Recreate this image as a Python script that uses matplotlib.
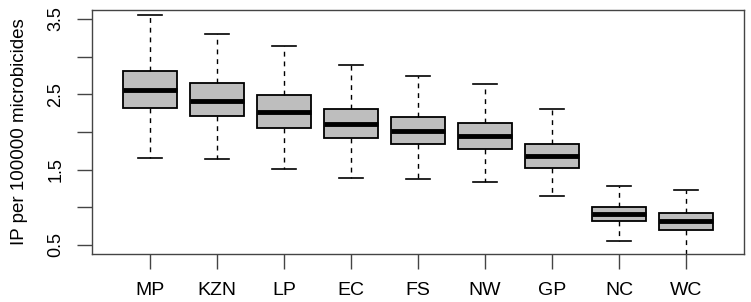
import matplotlib
matplotlib.use("Agg")
import matplotlib.pyplot as plt

provinces = ["MP", "KZN", "LP", "EC", "FS", "NW", "GP", "NC", "WC"]
whisker_low = [1.66, 1.645, 1.51, 1.39, 1.37, 1.34, 1.155, 0.556, 0.30]
q1 = [2.314, 2.208, 2.056, 1.920, 1.836, 1.778, 1.525, 0.813, 0.694]
medians = [2.557, 2.415, 2.269, 2.110, 2.013, 1.946, 1.677, 0.906, 0.813]
q3 = [2.813, 2.646, 2.491, 2.309, 2.203, 2.123, 1.836, 1.007, 0.920]
whisker_high = [3.55, 3.297, 3.146, 2.893, 2.743, 2.641, 2.301, 1.286, 1.233]
y_ticks = [0.5, 1.0, 1.5, 2.0, 2.5, 3.0, 3.5]
y_tick_labels = ["0.5", "", "1.5", "", "2.5", "", "3.5"]
ylabel = "IP per 100000 microbicides"

plt.rcParams['font.family'] = ['Liberation Sans', 'DejaVu Sans']

fig = plt.figure(figsize=(7.51, 3.02), dpi=100)
ax = fig.add_axes([92/751, 1 - 254/302, (744-92)/751, (254-9.5)/302])

stats = []
for i, name in enumerate(provinces):
    stats.append(dict(label=name, whislo=whisker_low[i], q1=q1[i], med=medians[i],
                      q3=q3[i], whishi=whisker_high[i], fliers=[]))

positions = list(range(1, len(provinces) + 1))
ax.bxp(stats, positions=positions, widths=0.8, patch_artist=True,
       showfliers=False,
       boxprops=dict(facecolor="#bebebe", edgecolor="black", linewidth=1.3),
       medianprops=dict(color="black", linewidth=3.5, solid_capstyle="butt"),
       whiskerprops=dict(color="black", linestyle=(0, (3.5, 3.5)), linewidth=1.0),
       capprops=dict(color="black", linewidth=1.2),
       capwidths=0.36)

ax.set_xlim(0.14, 9.86)
ax.set_ylim(0.38, 3.626)

ax.set_yticks(y_ticks)
ax.set_yticklabels(y_tick_labels, rotation=90, va="center", fontsize=13)
ax.set_xticks(positions)
ax.set_xticklabels(provinces, fontsize=14)
ax.tick_params(axis="both", length=11, width=1, color="#444444")
ax.tick_params(axis="x", pad=9)
ax.tick_params(axis="y", pad=9)
for s in ax.spines.values():
    s.set_color("#444444")
    s.set_linewidth(1)
ax.set_ylabel(ylabel, fontsize=13.5, labelpad=14)

fig.savefig("out.png", dpi=100)
